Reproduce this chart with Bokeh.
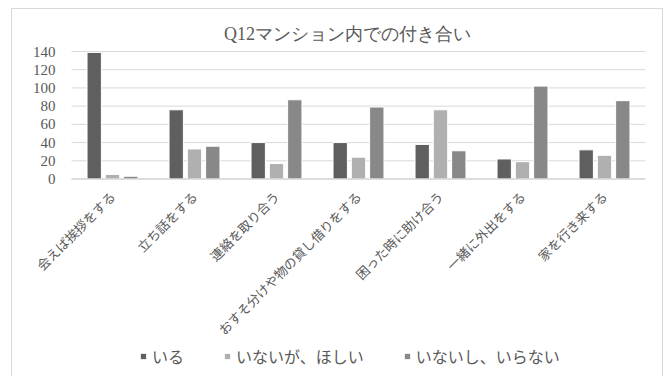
import math
from bokeh.plotting import figure
from bokeh.models import Range1d, Legend, LegendItem, InlineStyleSheet, Label
from bokeh.core.properties import value
from bokeh.transform import dodge
from bokeh.embed import file_html
from bokeh.resources import INLINE

categories = ["会えば挨拶をする", "立ち話をする", "連絡を取り合う",
              "おすそ分けや物の貸し借りをする", "困った時に助け合う",
              "一緒に外出をする", "家を行き来する"]
series_names = ["いる", "いないが、ほしい", "いないし、いらない"]
iru = [139, 76, 40, 40, 38, 22, 32]
hoshii = [5, 33, 17, 24, 76, 19, 26]
iranai = [3, 36, 87, 79, 31, 102, 86]
y_ticks = [0, 20, 40, 60, 80, 100, 120, 140]
y_tick_labels = ["0", "20", "40", "60", "80", "100", "120", "140"]
title_text = "Q12マンション内での付き合い"

colors = ["#5f5f5f", "#b0b0b0", "#888888"]
offsets = [-0.223, 0.0, 0.223]

n = len(categories)
idx = list(range(n))
data = dict(idx=idx, cat=categories, iru=iru, hoshii=hoshii, iranai=iranai)
ticks = dict(y=y_ticks, label=y_tick_labels,
             x0=[-0.5] * len(y_ticks), x1=[n - 0.5] * len(y_ticks))

border_css = InlineStyleSheet(css="""
:host {
  background:
    linear-gradient(#d9d9d9, #d9d9d9) 11px 8px / 652px 1px no-repeat,
    linear-gradient(#d9d9d9, #d9d9d9) 11px 8px / 1px 400px no-repeat,
    linear-gradient(#d9d9d9, #d9d9d9) 662px 8px / 1px 400px no-repeat,
    #ffffff;
}
""")

# the frame covers the whole canvas: one category = 82 px, first category slot starts at 71 px,
# value 0 sits at 178.5 px and value 140 at 51 px from the top
px_per_cat = 82.0
px_per_val = 127.5 / 140
x_start = -0.5 - 71 / px_per_cat
x_end = x_start + 672 / px_per_cat
y_end = 140 + 51 / px_per_val
y_start = -(376 - 178.5) / px_per_val

p = figure(width=672, height=376, output_backend="svg", toolbar_location=None,
           x_range=Range1d(x_start, x_end), y_range=Range1d(y_start, y_end),
           min_border=0, stylesheets=[border_css])
p.outline_line_color = None
p.background_fill_alpha = 0
p.border_fill_alpha = 0
p.xaxis.visible = False
p.yaxis.visible = False
p.xgrid.visible = False
p.ygrid.visible = False

# gridlines
p.segment(x0="x0", x1="x1", y0="y", y1="y", source=ticks,
          line_color="#d9d9d9", line_width=1)

renderers = []
for key, col, off in zip(["iru", "hoshii", "iranai"], colors, offsets):
    r = p.vbar(x=dodge("idx", off), top=key, width=0.175,
               source=data, fill_color=col, line_color="white", line_width=1)
    renderers.append(r)

# category baseline
p.segment(x0=-0.5, x1=n - 0.5, y0=0, y1=0, line_color="#cccccc", line_width=1)

# y tick labels
p.text(x="x0", y="y", text="label", source=ticks, x_offset=-16,
       text_align="right", text_baseline="middle",
       text_font=value("Liberation Serif"), text_font_size=value("15px"),
       text_color="#595959")

# category labels, rotated, ending just below each category centre
p.text(x="idx", y=0, text="cat", source=data, angle=math.pi / 4,
       text_align="right", text_baseline="middle", y_offset=15,
       text_font=value("Noto Sans CJK JP"), text_font_size=value("13px"),
       text_color="#595959")

# title
p.add_layout(Label(x=(x_start + 347 / px_per_cat), y=140 + 18 / px_per_val,
                   text=title_text, text_align="center", text_baseline="middle",
                   text_font="Liberation Serif", text_font_size="18px",
                   text_color="#595959"))

# legend
legend = Legend(items=[LegendItem(label=s, renderers=[r]) for s, r in zip(series_names, renderers)],
                orientation="horizontal", location=(139, 8),
                glyph_width=8, glyph_height=8, label_standoff=5, spacing=39,
                padding=0, margin=0, border_line_color=None,
                background_fill_alpha=0, label_text_font="Noto Sans CJK JP",
                label_text_font_size="16px", label_text_color="#595959")
p.add_layout(legend, "center")

open("out.html", "w").write(file_html(p, INLINE))
